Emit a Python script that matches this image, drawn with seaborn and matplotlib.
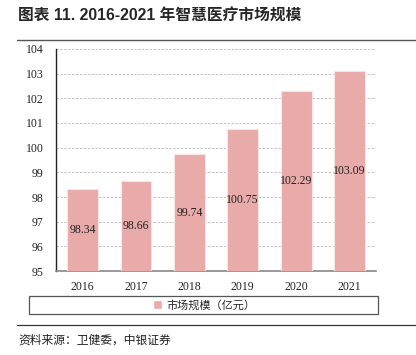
import matplotlib
matplotlib.use("Agg")
import matplotlib.pyplot as plt
import seaborn as sns
import pandas as pd
from matplotlib.patches import Patch, Rectangle
from matplotlib.lines import Line2D

years = ["2016", "2017", "2018", "2019", "2020", "2021"]
market_size = [98.34, 98.66, 99.74, 100.75, 102.29, 103.09]
y_ticks = [95, 96, 97, 98, 99, 100, 101, 102, 103, 104]

df = pd.DataFrame({"year": years, "size": market_size})

sns.set_style("white")
plt.rcParams["font.family"] = ["Liberation Serif", "Noto Sans CJK SC"]

bar_color = "#E9AAAA"

fig = plt.figure(figsize=(4.16, 3.55), dpi=100)
ax = fig.add_axes([0.1346, 0.2366, 0.7694, 0.6254])

sns.barplot(data=df, x="year", y="size", color=bar_color, width=0.58,
            saturation=1, edgecolor="#F8E4E4", linewidth=0.8, ax=ax, zorder=3)

ax.set_ylim(95, 104)
ax.set_xlim(-0.5, 5.5)
ax.set_yticks(y_ticks)
ax.set_yticklabels([str(t) for t in y_ticks])
ax.yaxis.grid(True, linestyle=(0, (2.5, 1.5)), color="#C4C4C4", linewidth=0.7, zorder=0)
ax.set_axisbelow(True)
ax.set_xlabel("")
ax.set_ylabel("")
ax.tick_params(axis="both", length=0, labelsize=8.5, colors="#222222")
ax.tick_params(axis="y", pad=9)
ax.tick_params(axis="x", pad=7)

for s in ["top", "right"]:
    ax.spines[s].set_visible(False)
ax.spines["left"].set_color("#222222")
ax.spines["left"].set_linewidth(1.0)
ax.spines["bottom"].set_color("#888888")
ax.spines["bottom"].set_linewidth(1.2)

for i, v in enumerate(market_size):
    ax.text(i, (95 + v) / 2, f"{v:.2f}", ha="center", va="center",
            fontsize=8.5, color="#222222", zorder=4)

# title and rules
fig.text(0.043, 0.955, "图表 11. 2016-2021 年智慧医疗市场规模", ha="left", va="center",
         fontsize=11.3, fontweight="bold", family=["Liberation Sans", "Noto Sans CJK SC"])
fig.add_artist(Line2D([0.041, 1.0], [0.887, 0.887], color="#555555", linewidth=1.0))
fig.add_artist(Line2D([0.041, 1.0], [0.085, 0.085], color="#333333", linewidth=0.9))

# legend box
fig.add_artist(Rectangle((29 / 416, 1 - 314 / 355), 349 / 416, 18 / 355,
                         transform=fig.transFigure, fill=False,
                         edgecolor="#555555", linewidth=0.9))
fig.legend(handles=[Patch(facecolor=bar_color, label="市场规模（亿元）")],
           loc="center", bbox_to_anchor=(204 / 416, 1 - 305 / 355),
           frameon=False, handlelength=0.8, handleheight=0.8,
           handletextpad=0.4, borderpad=0.1,
           prop={"family": ["Noto Sans CJK SC"], "size": 8})

fig.text(0.045, 0.042, "资料来源：卫健委，中银证券", ha="left", va="center",
         fontsize=8.5, style="italic", family=["Noto Sans CJK SC"], color="#222222")

fig.savefig("out.png", dpi=100)
